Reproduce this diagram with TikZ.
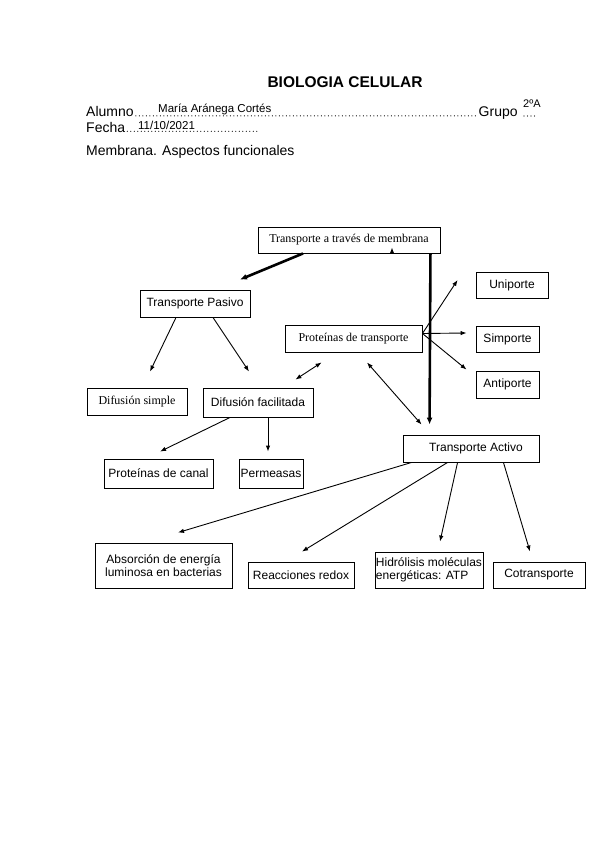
\documentclass[tikz,border=0pt]{standalone}
\usepackage{fontspec}
\setmainfont{Liberation Sans}
\newfontfamily\serifa{Liberation Serif}
\usetikzlibrary{arrows.meta}
\begin{document}
\begin{tikzpicture}[x=1pt,y=-1pt,yscale=1,xscale=1,
    caja/.style={draw, line width=0.9pt, inner sep=0pt, align=center, font=\fontsize{12}{13.5}\selectfont},
    cajaserif/.style={caja, font=\serifa\fontsize{12}{13.5}\selectfont},
    texto/.style={anchor = base west, inner sep=0pt, font=\fontsize{14}{16}\selectfont},
    relleno/.style={anchor = base west, inner sep=0pt, font=\fontsize{11.5}{13}\selectfont},
    puntos/.style={line width=1.2pt, line cap=round, dash pattern=on 0pt off 3.5pt},
    flecha/.style={line width=0.9pt, -{Latex[length=6pt,width=4.5pt]}},
    doble/.style={line width=0.9pt, {Latex[length=6pt,width=4.5pt]}-{Latex[length=6pt,width=4.5pt]}},
    gruesa/.style={line width=2.6pt, -{Latex[length=7pt,width=6pt]}}]
            \useasboundingbox [fill=white] (0, 0) rectangle (599, 848);
            %cabecera
            \node[anchor = base] (titulo) at (345, 88) {\fontsize{15.5}{18}\selectfont\bfseries BIOLOGIA CELULAR};
            \node[texto] (alumno) at (86, 116.5) {Alumno};
            \node[texto] (grupo) at (478.5, 116.5) {Grupo};
            \node[relleno] (nombre) at (158, 113) {María Aránega Cortés};
            \node[relleno, font=\fontsize{11}{13}\selectfont] (curso) at (523, 108) {2ºA};
            \coordinate (fincurso) at (538, 116);
            \draw [puntos] ([xshift=2pt, yshift=0.7pt]alumno.base east) -- ([xshift=-1pt, yshift=0.7pt]grupo.base west);
            \draw [puntos] ([xshift=1pt]curso.west |- fincurso) -- (fincurso);
            \node[texto] (fecha) at (86, 132) {Fecha};
            \node[relleno] (dia) at (138, 130) {11/10/2021};
            \coordinate (finfecha) at (257, 131.3);
            \draw [puntos] ([xshift=2pt, yshift=0.7pt]fecha.base east) -- (finfecha);
            \node[texto] (tema) at (86, 155) {Membrana. Aspectos funcionales};
            %
            %cajas
            \node[cajaserif, minimum width=182, minimum height=26] (tam) at (349, 240) {Transporte a través de membrana};
            \node[caja, minimum width=110, minimum height=27] (pas) at (195, 303.5) {Transporte Pasivo};
            \node[caja, minimum width=72, minimum height=26] (uni) at (512, 285) {Uniporte};
            \node[cajaserif, minimum width=137, minimum height=27] (prot) at (353.5, 338.5) {Proteínas de transporte};
            \node[caja, minimum width=63, minimum height=26] (sim) at (507.5, 339) {Simporte};
            \node[caja, minimum width=63, minimum height=27] (anti) at (507.5, 384.5) {Antiporte};
            \node[cajaserif, minimum width=100, minimum height=27] (dsim) at (137, 401.5) {Difusión simple};
            \node[caja, minimum width=110, minimum height=29] (dfac) at (258, 402.5) {Difusión facilitada};
            \node[caja, minimum width=136, minimum height=27] (ta) at (471, 448.5) {\hspace{10pt}Transporte Activo};
            \node[caja, minimum width=109, minimum height=29] (pcan) at (158.5, 473.5) {Proteínas de canal};
            \node[caja, minimum width=64, minimum height=29] (perm) at (271, 473.5) {Permeasas};
            \node[caja, minimum width=137, minimum height=45] (abs) at (163.5, 565.5) {Absorción de energía\\luminosa en bacterias};
            \node[caja, minimum width=106, minimum height=26] (red) at (301, 575) {Reacciones redox};
            \node[caja, minimum width=108, minimum height=36, align=left] (hid) at (429, 570) {Hidrólisis moléculas\\energéticas: ATP};
            \node[caja, minimum width=92, minimum height=26] (cot) at (539, 575) {Cotransporte};
            %
            %flechas gruesas
            \draw [gruesa] ([xshift=-46pt]tam.south) -- ([xshift=45pt, yshift=10pt]pas.north);
            \draw [gruesa] ([xshift=-10pt]tam.south east) -- ([xshift=27pt, yshift=10pt]ta.north west);
            \draw [flecha] ([xshift=43pt]tam.south) -- ([xshift=43pt, yshift=6pt]tam.south);
            %transporte pasivo
            \draw [flecha] ([xshift=-19pt]pas.south) -- ([xshift=13pt, yshift=16pt]dsim.north);
            \draw [flecha] ([xshift=18pt]pas.south) -- ([xshift=-9pt, yshift=16pt]dfac.north);
            \draw [flecha] ([xshift=-28pt]dfac.south) -- ([xshift=1.5pt, yshift=7pt]pcan.north);
            \draw [flecha] ([xshift=10pt]dfac.south) -- ([xshift=-3pt, yshift=7pt]perm.north);
            %proteinas de transporte
            \draw [doble] ([xshift=-18pt, yshift=8pt]dfac.north east) -- ([xshift=37pt, yshift=-10pt]prot.south west);
            \draw [doble] ([xshift=13.5pt, yshift=-10pt]prot.south) -- ([xshift=19pt, yshift=10pt]ta.north west);
            \draw [flecha] ([yshift=5pt]prot.east) -- ([xshift=-18pt, yshift=5pt]uni.west);
            \draw [flecha] ([yshift=5pt]prot.east) -- ([xshift=-9pt, yshift=6pt]sim.west);
            \draw [flecha] ([yshift=5pt]prot.east) -- ([xshift=-9pt, yshift=1pt]anti.north west);
            %transporte activo
            \draw [flecha] ([xshift=9pt]ta.south west) -- ([xshift=14.5pt, yshift=10pt]abs.north);
            \draw [flecha] ([xshift=45pt]ta.south west) -- ([xshift=1pt, yshift=10pt]red.north);
            \draw [flecha] ([xshift=55pt]ta.south west) -- ([xshift=11pt, yshift=10pt]hid.north);
            \draw [flecha] ([xshift=-36pt]ta.south east) -- ([xshift=-9pt, yshift=10pt]cot.north);
            %
        \end{tikzpicture}
\end{document}
